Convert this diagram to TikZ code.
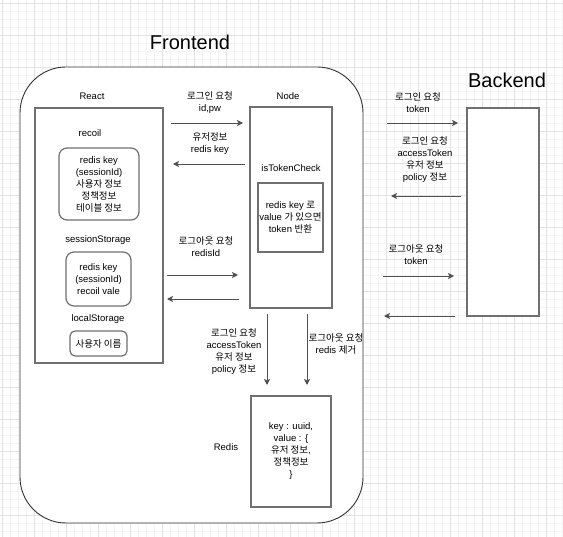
\documentclass[tikz,border=0pt]{standalone}
\usepackage{fontspec}
\setmainfont{Liberation Sans}
\newfontfamily\kr[Scale=1.0]{Noto Sans CJK KR}
\usetikzlibrary{arrows.meta}

\definecolor{gridmajor}{HTML}{E3E3E3}
\definecolor{gridminor}{HTML}{F4F4F4}
\definecolor{boxline}{HTML}{707070}
\definecolor{arrline}{HTML}{505050}

\tikzset{
  txt/.style={align=center, inner sep=0pt, font=\fontsize{9.5}{12}\selectfont},
  box/.style={txt, draw=boxline, line width=1.2pt, fill=white},
  rbox/.style={box, rounded corners=8pt},
  arr/.style={draw=arrline, line width=0.9pt, -{Stealth[length=6pt,width=6pt,inset=1.5pt]}},
  title/.style={inner sep=0pt, font=\fontsize{20}{24}\selectfont}
}

\begin{document}
\begin{tikzpicture}[x=1pt, y=-1pt]
  \useasboundingbox (0,0) rectangle (563,537);

  % grid
  \foreach \x in {2,10,...,562} \draw[gridminor, line width=0.6pt] (\x,0) -- (\x,537);
  \foreach \y in {3,11,...,537} \draw[gridminor, line width=0.6pt] (0,\y) -- (563,\y);
  \foreach \x in {2,34,...,562} \draw[gridmajor, line width=0.7pt] (\x,0) -- (\x,537);
  \foreach \y in {3,35,...,537} \draw[gridmajor, line width=0.7pt] (0,\y) -- (563,\y);

  % frontend
  \node[draw=black!80, line width=0.9pt, fill=white, rounded corners=46pt,
        minimum width=343pt, minimum height=456pt] (front) at (191.5,295) {};
  \node[title] (frontlbl) at (190,42) {Frontend};
  \node[title] (backlbl) at (507,80) {Backend};

  % react
  \node[txt] (reactlbl) at (92,96) {React};
  \node[box, minimum width=128pt, minimum height=255pt] (react) at (99,235.5) {};
  \node[txt] (recoillbl) at (90,133) {recoil};
  \node[rbox, minimum width=80pt, minimum height=72pt] (recoil) at (99,184)
    {redis key\\(sessionId)\\{\kr 사용자 정보}\\{\kr 정책정보}\\{\kr 테이블 정보}};
  \node[txt] (sesslbl) at (98,240) {sessionStorage};
  \node[rbox, minimum width=65pt, minimum height=54pt] (sess) at (98.5,279)
    {redis key\\(sessionId)\\recoil vale};
  \node[txt] (locallbl) at (98,319) {localStorage};
  \node[box, rounded corners=5pt, minimum width=57pt, minimum height=25pt] (local) at (98.5,343.5)
    {{\kr 사용자 이름}};

  % node
  \node[txt] (nodelbl) at (288,96) {Node};
  \node[box, minimum width=82pt, minimum height=201pt] (nodebox) at (291,207.5) {};
  \node[txt] (checklbl) at (291,168) {isTokenCheck};
  \node[box, minimum width=65pt, minimum height=69pt] (check) at (290.5,217.5)
    {redis key {\kr 로}\\value {\kr 가 있으면}\\token {\kr 반환}};

  % redis
  \node[txt] (redislbl) at (226,447) {Redis};
  \node[box, minimum width=80pt, minimum height=111pt] (redis) at (291,451.5)
    {key : uuid,\\value : \{\\{\kr 유저 정보},\\{\kr 정책정보}\\\}};

  % backend
  \node[box, minimum width=72pt, minimum height=208pt] (back) at (503,212) {};

  % arrow ends
  \coordinate (a1s) at (171,123);  \coordinate (a1e) at (243,123);
  \coordinate (a2s) at (245,164);  \coordinate (a2e) at (173,164);
  \coordinate (a3s) at (167,275);  \coordinate (a3e) at (238,275);
  \coordinate (a4s) at (239,299);  \coordinate (a4e) at (167,299);
  \coordinate (b1s) at (387,123);  \coordinate (b1e) at (458,123);
  \coordinate (b2s) at (461,196);  \coordinate (b2e) at (391,196);
  \coordinate (b3s) at (383,276);  \coordinate (b3e) at (454,276);
  \coordinate (b4s) at (455,316);  \coordinate (b4e) at (384,316);
  \coordinate (d1s) at (267,314);  \coordinate (d1e) at (267,385);
  \coordinate (d2s) at (307,314);  \coordinate (d2e) at (307,385);

  \draw[arr] (a1s) -- (a1e);
  \draw[arr] (a2s) -- (a2e);
  \draw[arr] (a3s) -- (a3e);
  \draw[arr] (a4s) -- (a4e);
  \draw[arr] (b1s) -- (b1e);
  \draw[arr] (b2s) -- (b2e);
  \draw[arr] (b3s) -- (b3e);
  \draw[arr] (b4s) -- (b4e);
  \draw[arr] (d1s) -- (d1e);
  \draw[arr] (d2s) -- (d2e);

  % labels
  \node[txt] (l1) at (210,103) {{\kr 로그인 요청}\\id,pw};
  \node[txt] (l2) at (210,144) {{\kr 유저정보}\\redis key};
  \node[txt] (l3) at (206,247) {{\kr 로그아웃 요청}\\redisId};
  \node[txt] (l4) at (418,103) {{\kr 로그인 요청}\\token};
  \node[txt] (l5) at (425,160) {{\kr 로그인 요청}\\accessToken\\{\kr 유저 정보}\\policy {\kr 정보}};
  \node[txt] (l6) at (416,255) {{\kr 로그아웃 요청}\\token};
  \node[txt] (l7) at (234,352) {{\kr 로그인 요청}\\accessToken\\{\kr 유저 정보}\\policy {\kr 정보}};
  \node[txt] (l8) at (336,343.5) {{\kr 로그아웃 요청}\\redis {\kr 제거}};
\end{tikzpicture}
\end{document}
